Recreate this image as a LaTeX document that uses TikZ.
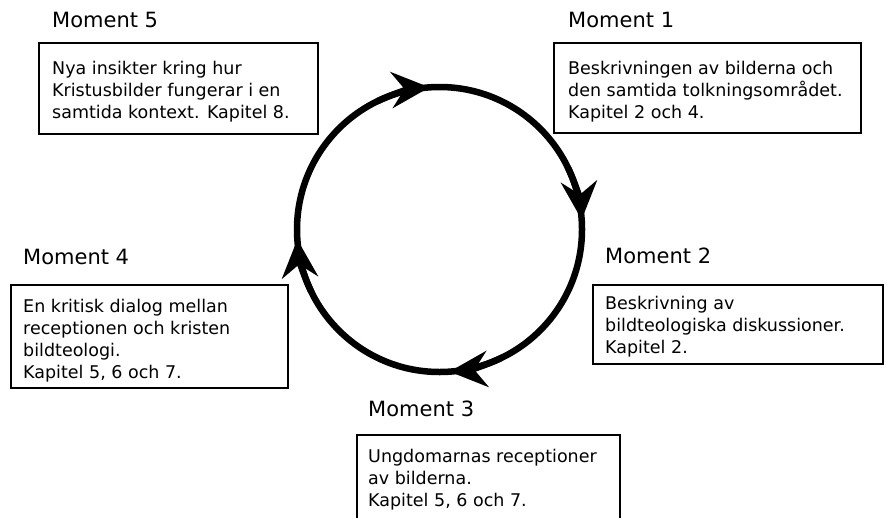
\documentclass[tikz,border=0pt]{standalone}
\usepackage{fontspec}
\setmainfont{DejaVu Sans}
\usetikzlibrary{arrows.meta}
\tikzset{
  momentbox/.style = {shape=rectangle, draw, line width=2pt,
                      inner sep=0pt, anchor=north west},
  momenttext/.style = {align=left, inner sep=0pt, anchor=base west,
                       font=\fontsize{17.5}{22}\selectfont},
  momenthead/.style = {inner sep=0pt, anchor=base west,
                       font=\fontsize{21}{25}\selectfont},
  ring/.style      = {line width=6.5pt},
  ringarrow/.style = {ring, -{Stealth[length=38pt, width=36pt, inset=13pt]}}
}

\begin{document}
\begin{tikzpicture}[x=1pt, y=-1pt]
  \useasboundingbox (0,0) rectangle (885,517);

  % the cycle
  \coordinate (c) at (439.5,229.5);
  \draw[ring] (c) circle (142.5);
  \draw[ringarrow] (c) ++(-116:142.5) arc[start angle=-116, end angle=-94, radius=142.5];
  \draw[ringarrow] (c) ++(-26:142.5) arc[start angle=-26, end angle=-4, radius=142.5];
  \draw[ringarrow] (c) ++(64:142.5) arc[start angle=64, end angle=86, radius=142.5];
  \draw[ringarrow] (c) ++(154:142.5) arc[start angle=154, end angle=176, radius=142.5];

  % Moment 5 (text anchored at the baseline of its last line)
  \node[momenthead] (head5) at (52,27) {Moment 5};
  \node[momentbox, minimum width=279pt, minimum height=91pt] (box5) at (38,42) {};
  \node[momenttext] (text5) at (52,118)
    {Nya insikter kring hur\\Kristusbilder fungerar i en\\samtida kontext. Kapitel 8.};

  % Moment 1
  \node[momenthead] (head1) at (568,27) {Moment 1};
  \node[momentbox, minimum width=307pt, minimum height=90pt] (box1) at (553,42) {};
  \node[momenttext] (text1) at (568,118)
    {Beskrivningen av bilderna och\\den samtida tolkningsområdet.\\Kapitel 2 och 4.};

  % Moment 4
  \node[momenthead] (head4) at (23,264) {Moment 4};
  \node[momentbox, minimum width=277pt, minimum height=103pt] (box4) at (10,284) {};
  \node[momenttext] (text4) at (23,378)
    {En kritisk dialog mellan\\receptionen och kristen\\bildteologi.\\Kapitel 5, 6 och 7.};

  % Moment 2
  \node[momenthead] (head2) at (605,263) {Moment 2};
  \node[momentbox, minimum width=290pt, minimum height=79pt] (box2) at (592,284) {};
  \node[momenttext] (text2) at (605,353)
    {Beskrivning av\\bildteologiska diskussioner.\\Kapitel 2.};

  % Moment 3
  \node[momenthead] (head3) at (368,416) {Moment 3};
  \node[momentbox, minimum width=263pt, minimum height=106pt] (box3) at (356,434) {};
  \node[momenttext] (text3) at (368,506)
    {Ungdomarnas receptioner\\av bilderna.\\Kapitel 5, 6 och 7.};
\end{tikzpicture}
\end{document}
